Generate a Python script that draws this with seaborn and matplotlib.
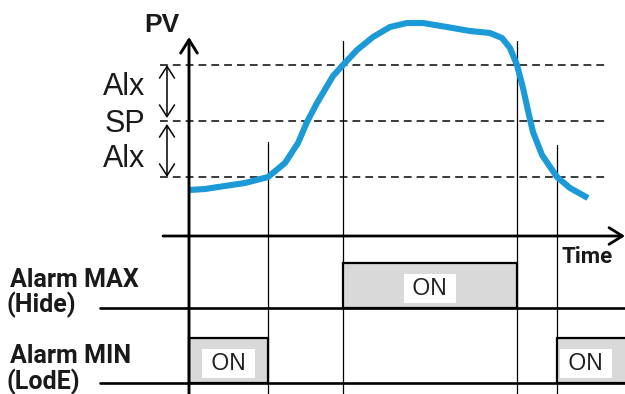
import matplotlib
matplotlib.use("Agg")
import matplotlib.pyplot as plt
import seaborn as sns
import pandas as pd

# ---------------- data (time t, process value PV) ----------------
curve_t = [0, 16, 29, 56, 79, 96, 109, 118, 128, 144, 154, 168, 184, 201, 218,
           234, 258, 281, 301, 313, 321, 328, 334, 340, 344, 353, 368, 381, 399]
curve_pv = [46, 47, 49, 53, 59, 73, 93, 114, 133, 160, 171, 186, 199, 209, 213,
            213, 209, 205, 203, 198, 188, 171, 148, 121, 104, 81, 59, 48, 38]

level_names = ["Alx", "SP", "Alx"]
level_values = [171, 115, 59]           # upper alarm, set point, lower alarm

switch_times = [79, 154, 328, 368]      # curve crossings of the alarm limits
switch_tops = [94, 195, 195, 91]

alarm_rows = ["Alarm MAX\n(Hide)", "Alarm MIN\n(LodE)"]
alarm_base = [-72, -147]
alarm_max_on = [(154, 328)]
alarm_min_on = [(0, 79), (368, 445)]
on_height = 45

# ---------------- figure ----------------
sns.set_theme(style="white")
plt.rcParams["font.family"] = ["Liberation Sans", "DejaVu Sans"]
fig = plt.figure(figsize=(6.25, 3.94), dpi=100)
ax = fig.add_axes([0, 0, 1, 1])
ax.set_xlim(-189, 436)
ax.set_ylim(-158, 236)
ax.axis("off")

narrow = ["Roboto", "DejaVu Sans"]

# dashed level lines
for v in level_values:
    ax.plot([-29, 418], [v, v], color="#3a3a3a", lw=1.4, dashes=(4, 2.6), zorder=1)

# thin vertical switch lines
for t, top in zip(switch_times, switch_tops):
    ax.plot([t, t], [-160, top], color="black", lw=0.9, zorder=2)

# alarm baselines
for b in alarm_base:
    ax.plot([-89, 436], [b, b], color="black", lw=1.9, zorder=3)

# ON boxes
def draw_on(spans, base):
    for s, e in spans:
        ax.bar(s, on_height, width=e - s, bottom=base, align="edge",
               color="#d9d9d9", edgecolor="black", linewidth=1.6, zorder=3)
        cx = (s + 426) / 2 if e > 436 else (s + e) / 2
        ax.text(cx, base + 13, " ON ", ha="center", va="baseline", fontsize=16.5,
                color="#222222", zorder=5,
                bbox=dict(boxstyle="square,pad=0.12", fc="white", ec="none"))

draw_on(alarm_max_on, alarm_base[0])
draw_on(alarm_min_on, alarm_base[1])

# PV curve
df = pd.DataFrame({"t": curve_t, "pv": curve_pv})
sns.lineplot(data=df, x="t", y="pv", ax=ax, color="#1b9ad7", lw=4.4,
             sort=False, zorder=4, solid_capstyle="butt", solid_joinstyle="round")

# axes arrows
ax.annotate("", xy=(0, 199), xytext=(0, -160),
            arrowprops=dict(arrowstyle="->,head_length=0.8,head_width=0.5",
                            lw=2.1, color="black", shrinkA=0, shrinkB=0,
                            mutation_scale=12), zorder=6)
ax.annotate("", xy=(436, 0), xytext=(-26, 0),
            arrowprops=dict(arrowstyle="->,head_length=0.8,head_width=0.5",
                            lw=2.0, color="black", shrinkA=0, shrinkB=0,
                            mutation_scale=12), zorder=6)

# Alx double arrows
for y0, y1 in [(level_values[0], level_values[1] + 3), (level_values[1] - 3, level_values[2])]:
    ax.annotate("", xy=(-22, y0), xytext=(-22, y1),
                arrowprops=dict(arrowstyle="<->,head_length=0.7,head_width=0.45",
                                lw=1.1, color="black", shrinkA=0, shrinkB=0,
                                mutation_scale=12))

# level labels
for name, yb in zip(level_names, [141, 104, 69]):
    ax.text(-44, yb, name, ha="right", va="baseline", fontsize=22, color="#1a1a1a")

ax.text(-27, 204, "PV", ha="center", va="baseline", fontsize=19,
        fontweight="bold", color="#1a1a1a")
ax.text(373, -27, "Time", ha="left", va="baseline", fontsize=16,
        fontweight="bold", family=narrow, color="#1a1a1a")

# alarm row labels
row_baselines = [(-51, -76), (-127, -153)]
for label, (b1, b2) in zip(alarm_rows, row_baselines):
    l1, l2 = label.split("\n")
    ax.text(-179, b1, l1, ha="left", va="baseline", fontsize=18,
            fontweight="bold", family=narrow, color="#1a1a1a")
    ax.text(-182, b2, l2, ha="left", va="baseline", fontsize=18,
            fontweight="bold", family=narrow, color="#1a1a1a")

fig.savefig("out.png", dpi=100)
